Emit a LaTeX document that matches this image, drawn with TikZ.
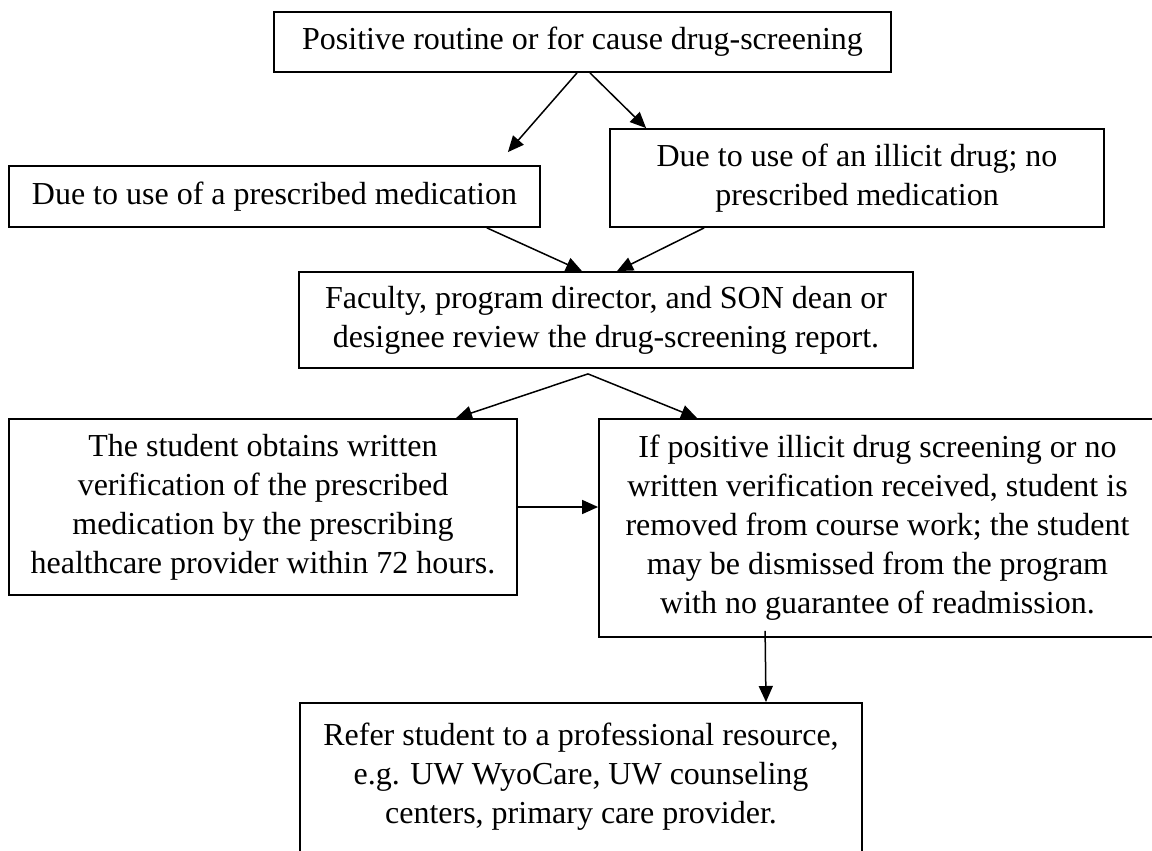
\documentclass[tikz,border=0pt]{standalone}
\usepackage{fontspec}
\setmainfont{Liberation Serif}
\usetikzlibrary{arrows.meta,calc}
\begin{document}
\begin{tikzpicture}[x=1pt,y=-1pt,
		box/.style={draw,line width=1.8pt,align=center,inner sep=0pt,font=\fontsize{32}{39}\selectfont},
		arr/.style={line width=1.5pt,-{Triangle[length=16pt,width=14pt]}}]
	\useasboundingbox (0,0) rectangle (1152,851);
	\node[box,minimum width=617,minimum height=60] (screen) at (582.5,42) {Positive routine or for cause drug-screening};
	\node[box,minimum width=531,minimum height=61] (presc) at (274.5,196.5) {Due to use of a prescribed medication};
	\node[box,minimum width=494,minimum height=98] (illicit) at (857,178) {Due to use of an illicit drug; no\\prescribed medication};
	\node[box,minimum width=614,minimum height=96] (review) at (606,320) {Faculty, program director, and SON dean or\\designee review the drug-screening report.};
	\node[box,minimum width=508,minimum height=176] (verify) at (263,507) {The student obtains written\\verification of the prescribed\\medication by the prescribing\\healthcare provider within 72 hours.};
	\node[box,minimum width=557,minimum height=218] (removed) at (877.5,528) {If positive illicit drug screening or no\\written verification received, student is\\removed from course work; the student\\may be dismissed from the program\\with no guarantee of readmission.};
	\node[box,minimum width=562,minimum height=179,anchor=north] (refer) at (581,702) {Refer student to a professional resource,\\e.g. UW WyoCare, UW counseling\\centers, primary care provider.\\\mbox{}};
	% arrows between the boxes
	\draw[arr] ($(screen.south)+(-5.5,0)$) -- ($(presc.north east)+(-33,-13)$);
	\draw[arr] ($(screen.south)+(7.5,0)$) -- ($(illicit.north west)+(37,0)$);
	\draw[arr] ($(presc.south east)+(-54,0)$) -- ($(review.north)+(-24,0)$);
	\draw[arr] ($(illicit.south west)+(95,0)$) -- ($(review.north)+(11,0)$);
	\draw[arr] ($(review.south)+(-18,5)$) -- ($(verify.north)+(193,0)$);
	\draw[arr] ($(review.south)+(-18,5)$) -- ($(removed.north west)+(99,0)$);
	\draw[arr] (verify.east) -- (verify.east -| removed.west);
	\draw[arr] ($(removed.south west)+(167,-7)$) -- ($(refer.north)+(185,0)$);
\end{tikzpicture}
\end{document}
